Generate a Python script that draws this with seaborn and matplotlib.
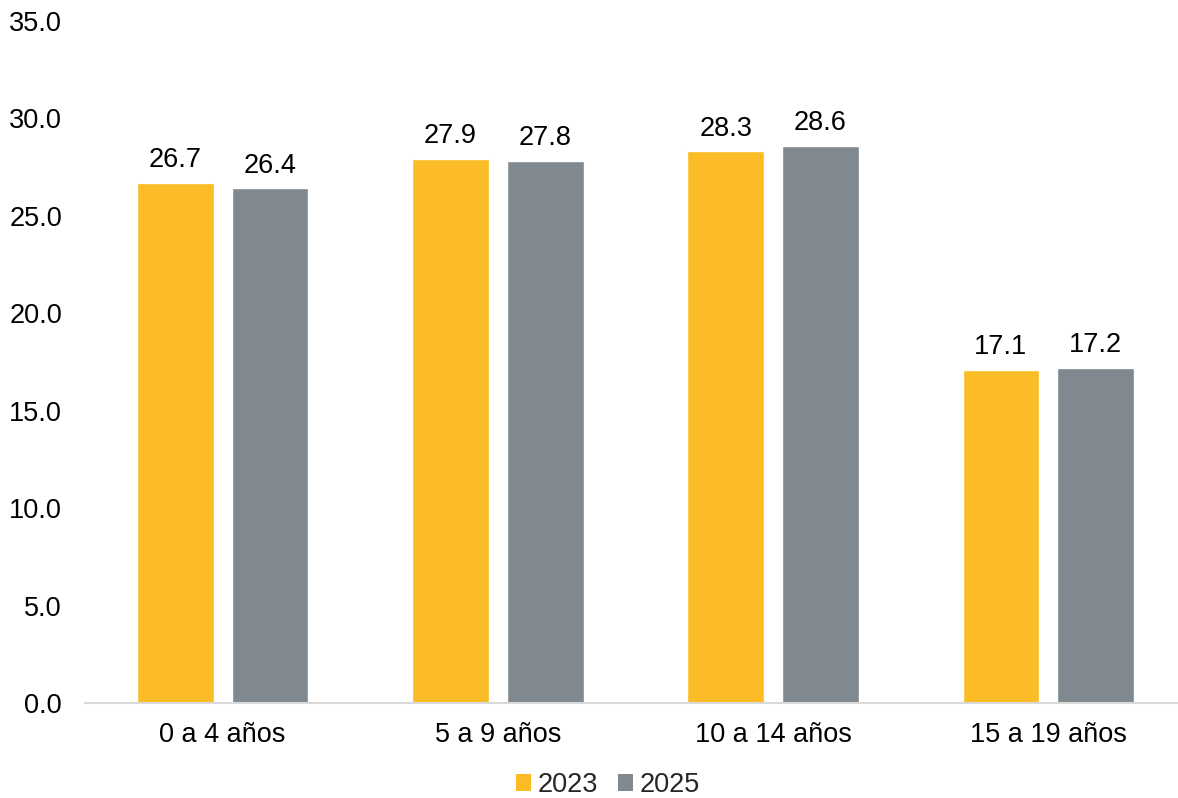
import matplotlib
matplotlib.use("Agg")
import matplotlib.pyplot as plt
from matplotlib.patches import Patch
import seaborn as sns
import pandas as pd

categories = ["0 a 4 años", "5 a 9 años", "10 a 14 años", "15 a 19 años"]
years = ["2023", "2025"]
values_2023 = [26.7, 27.9, 28.3, 17.1]
values_2025 = [26.4, 27.8, 28.6, 17.2]
yticks = [0, 5, 10, 15, 20, 25, 30, 35]
colors = {"2023": "#FBBC26", "2025": "#7F898F"}

df = pd.DataFrame({
    "grupo": categories * 2,
    "anio": [years[0]] * 4 + [years[1]] * 4,
    "valor": values_2023 + values_2025,
})

sns.set_theme(style="white")
plt.rcParams["font.family"] = ["Liberation Sans", "DejaVu Sans"]

FS = 19.5
fig = plt.figure(figsize=(11.78, 7.98), dpi=100)
ax = fig.add_axes([85 / 1178, 0.119, (1186 - 85) / 1178, 0.855])

sns.barplot(data=df, x="grupo", y="valor", hue="anio", order=categories,
            hue_order=years, palette=colors, width=0.689, gap=0.19,
            saturation=1, legend=False, ax=ax)

for cont in ax.containers:
    ax.bar_label(cont, fmt="%.1f", padding=7, fontsize=FS, color="#000000")

ax.set_ylim(0, 35)
ax.set_yticks(yticks)
ax.set_yticklabels([f"{v:.1f}" for v in yticks])
ax.set_xlim(-0.5, 3.5)
ax.set_xlabel("")
ax.set_ylabel("")
ax.tick_params(axis="y", length=0, pad=16.5, labelsize=FS, labelcolor="#000000")
ax.tick_params(axis="x", length=0, pad=14, labelsize=FS, labelcolor="#000000")
for s in ["top", "right", "left"]:
    ax.spines[s].set_visible(False)
ax.spines["bottom"].set_color("#D9D9D9")
ax.spines["bottom"].set_linewidth(1.5)
ax.grid(False)

handles = [Patch(facecolor=colors[y], edgecolor="none", label=y) for y in years]
fig.legend(handles=handles, loc="center", bbox_to_anchor=(608 / 1178, 0.016),
           ncol=2, frameon=False, fontsize=FS, handlelength=0.55,
           handleheight=0.55, handletextpad=0.25, columnspacing=0.75,
           borderpad=0.1)

fig.savefig("out.png", dpi=100)
